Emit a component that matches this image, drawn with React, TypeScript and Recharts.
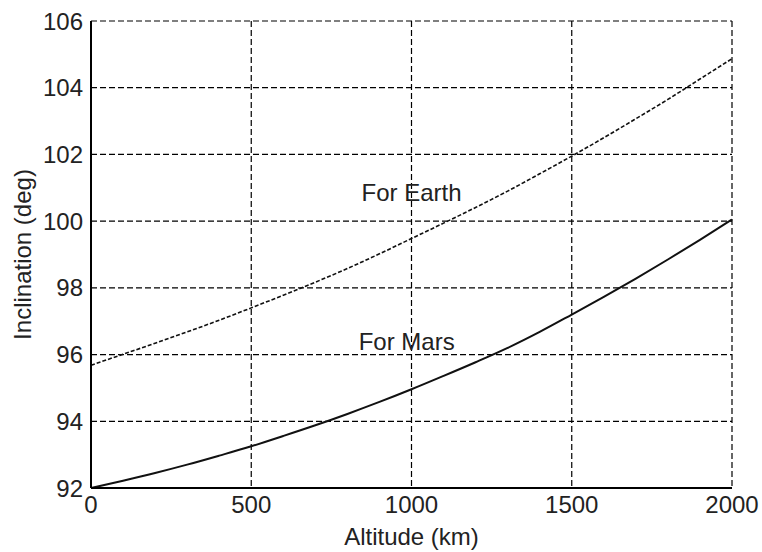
import React from "react";
import {
  LineChart,
  Line,
  XAxis,
  YAxis,
  CartesianGrid,
  ReferenceDot,
} from "recharts";

const altitudes = [0, 100, 200, 300, 400, 500, 600, 700, 800, 900, 1000, 1100, 1200, 1300, 1400, 1500, 1600, 1700, 1800, 1900, 2000];
const earthInclination = [95.68, 96.01, 96.34, 96.68, 97.03, 97.4, 97.78, 98.17, 98.58, 99.02, 99.48, 99.94, 100.41, 100.9, 101.42, 101.95, 102.5, 103.07, 103.65, 104.26, 104.87];
const marsInclination = [92.0, 92.22, 92.45, 92.7, 92.97, 93.25, 93.56, 93.88, 94.22, 94.58, 94.96, 95.36, 95.77, 96.2, 96.68, 97.2, 97.73, 98.28, 98.85, 99.44, 100.05];
const xTicks = [0, 500, 1000, 1500, 2000];
const yTicks = [92, 94, 96, 98, 100, 102, 104, 106];
const earthLabel = { x: 1000, y: 100.87, text: "For Earth" };
const marsLabel = { x: 985, y: 96.38, text: "For Mars" };

const data = altitudes.map((a, i) => ({
  alt: a,
  earth: earthInclination[i],
  mars: marsInclination[i],
}));

const FONT = "'Liberation Sans', Arial, Helvetica, sans-serif";
const TXT = "#222";

export default function App() {
  return (
    <div style={{ position: "absolute", left: 0, top: 0, background: "#fff" }}>
      <LineChart
        width={762}
        height={552}
        data={data}
        margin={{ top: 21, right: 30, bottom: 0, left: 0 }}
        style={{ fontFamily: FONT }}
      >
        <CartesianGrid
          stroke="#000"
          strokeWidth={1.2}
          strokeDasharray="6 3"
          verticalValues={xTicks}
          horizontalValues={yTicks}
        />
        <XAxis
          dataKey="alt"
          type="number"
          domain={[0, 2000]}
          ticks={xTicks}
          tickLine={false}
          axisLine={{ stroke: "#000", strokeWidth: 2 }}
          tick={{ fill: TXT, fontSize: 24, fontFamily: FONT }}
          height={64}
          interval={0}
          label={{
            value: "Altitude (km)",
            position: "insideBottom",
            offset: 7,
            fill: TXT,
            fontSize: 24,
            fontFamily: FONT,
          }}
        />
        <XAxis
          xAxisId="top"
          orientation="top"
          dataKey="alt"
          type="number"
          domain={[0, 2000]}
          ticks={xTicks}
          tick={false}
          tickLine={false}
          height={0}
          axisLine={{ stroke: "#000", strokeWidth: 2 }}
        />
        <YAxis
          type="number"
          domain={[92, 106]}
          ticks={yTicks}
          tickLine={false}
          axisLine={{ stroke: "#000", strokeWidth: 2 }}
          tick={{ fill: TXT, fontSize: 24, fontFamily: FONT }}
          width={91}
          interval={0}
          label={{
            value: "Inclination (deg)",
            angle: -90,
            position: "insideLeft",
            offset: 22,
            style: { textAnchor: "middle" },
            fill: TXT,
            fontSize: 24,
            fontFamily: FONT,
          }}
        />
        <YAxis
          yAxisId="right"
          orientation="right"
          type="number"
          domain={[92, 106]}
          ticks={yTicks}
          tick={false}
          tickLine={false}
          width={0}
          axisLine={{ stroke: "#000", strokeWidth: 2 }}
        />
        <Line
          type="monotone"
          dataKey="earth"
          stroke="#111"
          strokeWidth={1.6}
          strokeDasharray="4 2"
          dot={false}
          isAnimationActive={false}
        />
        <Line
          type="monotone"
          dataKey="mars"
          stroke="#111"
          strokeWidth={2}
          dot={false}
          isAnimationActive={false}
        />
        <ReferenceDot
          x={earthLabel.x}
          y={earthLabel.y}
          r={0}
          stroke="none"
          fill="none"
          label={{ value: earthLabel.text, position: "center", fill: TXT, fontSize: 24, fontFamily: FONT }}
        />
        <ReferenceDot
          x={marsLabel.x}
          y={marsLabel.y}
          r={0}
          stroke="none"
          fill="none"
          label={{ value: marsLabel.text, position: "center", fill: TXT, fontSize: 24, fontFamily: FONT }}
        />
      </LineChart>
    </div>
  );
}
